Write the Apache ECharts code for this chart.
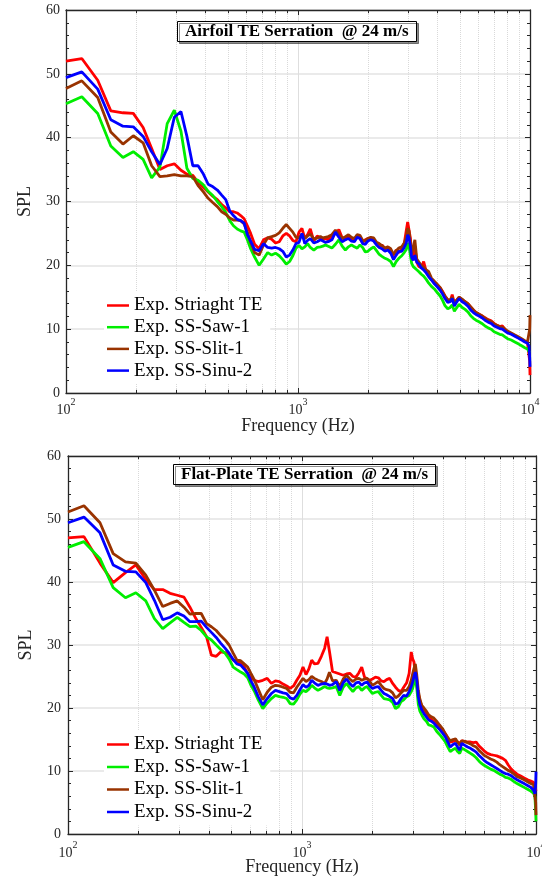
<!DOCTYPE html>
<html><head><meta charset="utf-8">
<script src="https://cdn.jsdelivr.net/npm/echarts@6/dist/echarts.min.js"></script>
<style>html,body{margin:0;padding:0;background:#fff}#c{width:542px;height:877px}</style>
</head><body><div id="c"></div>
<script>
// Frequency bins (Hz), shared by all series
const FREQ = [100,117,137,156,176,195,215,234,254,273,293,313,332,352,371,391,410,430,449,469,488,508,527,547,566,586,605,625,
650,680,710,740,770,800,830,860,890,920,950,980,1010,
1040,1070,1100,1130,1170,1210,1250,
1280,1310,1350,1400,1450,1500,1550,1600,1650,1700,1750,1800,1850,1900,1950,2000,
2060,2120,2180,2240,2300,
2370,2440,2510,2580,2650,2720,2800,2870,2930,2970,
3010,3050,3090,3140,3190,3250,3320,3400,3480,3570,3660,3760,3870,3990,
4100,4200,4300,4420,4530,4620,4720,4820,4950,
5100,5250,5400,5550,5700,5850,6000,
6200,6400,6600,6800,7000,7200,7400,7600,7800,8000,
8300,8600,8900,9200,9500,9750,9900,9970,10000];

const NAMES = ['Exp. Striaght TE','Exp. SS-Saw-1','Exp. SS-Slit-1','Exp. SS-Sinu-2'];
const COLORS = ['#ff0000','#00ee00','#993300','#0000ff'];
const TITLES = ['Airfoil TE Serration  @ 24 m/s','Flat-Plate TE Serration  @ 24 m/s'];
const X_MINOR = [200,300,400,500,600,700,800,900,2000,3000,4000,5000,6000,7000,8000,9000];

// Top panel: Airfoil
const AIR_STRAIGHT = [52.0,52.4,49.0,44.2,43.9,43.8,41.6,38.3,35.0,35.6,35.9,34.9,34.3,34.1,33.0,32.2,31.5,30.8,30.3,29.5,29.0,28.4,28.4,28.2,27.8,27.3,26.2,25.0,
23.3,22.6,24.0,24.3,24.1,23.5,23.7,24.6,25.0,24.6,23.9,23.7,25.2,
25.8,24.2,24.8,25.7,23.8,24.6,24.3,
24.0,24.2,24.0,24.6,25.0,25.6,24.3,24.0,24.6,24.1,24.0,24.7,24.2,23.6,24.0,24.2,
24.3,24.0,23.4,22.8,23.2,
22.6,22.9,22.0,21.6,22.4,22.0,22.6,23.4,25.5,26.8,
26.5,24.3,22.0,21.5,23.0,20.5,19.8,19.6,20.6,19.0,18.6,17.8,17.4,16.8,
16.5,15.9,15.2,14.6,14.4,15.4,14.1,14.5,15.0,
14.6,14.3,14.0,13.5,13.0,12.6,12.4,
12.1,11.8,11.5,11.3,10.9,10.6,10.4,10.5,10.0,9.6,
9.3,9.0,8.7,8.4,8.1,7.9,7.6,5.0,2.8];
const AIR_SAW = [45.3,46.4,43.8,38.7,36.9,37.8,36.6,33.7,35.4,42.2,44.3,41.0,35.2,33.6,33.3,32.6,31.6,30.9,30.0,29.2,28.3,27.0,26.2,25.7,25.4,25.2,24.0,22.6,
21.3,20.0,21.0,22.0,21.6,21.9,21.5,20.9,20.2,20.6,21.5,22.7,23.1,
22.6,22.9,23.4,22.8,22.4,22.8,22.9,
23.0,23.2,23.0,22.7,23.3,24.0,23.0,22.4,22.9,23.2,22.9,22.7,23.2,22.8,22.1,22.2,
22.6,22.9,22.3,21.7,21.4,
21.1,20.9,20.6,19.8,20.6,21.1,21.5,22.0,22.5,23.5,
23.0,21.6,20.3,19.8,20.0,19.3,19.0,18.6,18.3,17.8,17.2,16.7,16.3,15.7,
15.2,14.5,13.7,13.2,13.4,13.8,12.8,13.3,13.9,
13.4,13.1,12.7,12.1,11.7,11.4,11.2,
10.9,10.5,10.2,10.0,9.6,9.4,9.2,9.1,8.8,8.5,
8.3,8.0,7.7,7.4,7.1,6.9,6.6,6.3,6.2];
const AIR_SLIT = [47.7,48.9,46.3,40.9,39.0,40.3,39.2,35.6,33.9,34.0,34.2,34.0,34.0,33.9,32.5,31.5,30.5,29.8,29.2,28.4,28.0,27.4,27.1,27.1,27.0,26.5,25.2,23.6,
22.0,21.6,23.2,24.3,24.5,24.7,25.1,25.8,26.4,25.8,25.2,24.4,24.3,
24.9,24.2,24.6,24.9,24.1,24.3,24.5,
24.3,24.4,24.5,24.8,25.5,24.9,24.2,24.5,24.8,24.4,24.2,24.8,24.7,23.9,23.8,24.2,
24.4,24.3,23.6,23.4,23.1,
22.7,22.9,22.6,21.7,22.3,22.7,22.9,23.5,24.4,25.8,
25.4,23.6,21.8,22.0,24.0,21.0,20.5,20.0,19.7,19.3,19.0,18.0,17.5,17.0,
16.5,15.8,15.2,14.6,14.6,15.0,14.0,14.5,15.0,
14.7,14.3,14.0,13.5,13.0,12.6,12.4,
12.1,11.7,11.4,11.2,10.8,10.6,10.4,10.3,10.0,9.7,
9.4,9.1,8.8,8.5,8.2,8.0,7.8,10.0,12.2];
const AIR_SINU = [49.4,50.3,47.6,42.8,41.8,41.7,40.2,37.8,35.8,38.3,43.2,44.1,40.2,35.6,35.6,34.3,32.7,32.3,31.8,31.0,30.3,28.5,27.8,27.2,27.0,26.6,24.8,23.8,
22.5,22.3,23.4,22.8,22.7,22.8,22.6,22.2,21.3,21.6,22.4,23.4,23.6,
25.0,23.4,23.9,24.2,23.5,23.7,24.0,
23.8,23.6,23.7,24.0,25.2,24.4,23.7,24.0,24.2,23.8,23.7,24.4,24.2,23.4,23.3,23.8,
24.0,23.8,23.2,22.8,22.6,
22.2,22.4,21.9,20.9,21.6,22.2,22.2,22.8,23.5,24.8,
24.3,23.0,21.2,20.8,21.6,20.5,20.2,19.6,19.3,18.8,18.2,17.7,17.1,16.6,
16.1,15.5,14.8,14.2,14.3,14.8,13.6,14.2,14.8,
14.3,14.0,13.6,13.0,12.6,12.3,12.1,
11.8,11.4,11.1,10.9,10.5,10.3,10.1,10.0,9.7,9.4,
9.2,8.9,8.6,8.3,8.0,7.8,7.4,5.5,4.1];

// Bottom panel: Flat plate
const FP_STRAIGHT = [47.0,47.2,43.0,39.9,41.5,42.7,40.4,38.8,38.8,38.2,37.9,37.6,36.0,34.2,32.8,31.3,28.4,28.2,28.9,28.8,28.5,27.6,27.3,27.2,26.5,25.5,24.8,24.4,
24.2,24.4,24.7,23.9,24.3,24.2,23.8,23.5,23.1,23.5,24.4,25.2,26.5,
25.3,26.2,27.6,27.0,27.1,28.2,29.5,
31.3,29.0,25.8,25.6,25.4,25.2,25.4,25.5,25.0,24.9,25.6,26.5,24.9,24.6,24.4,24.6,
24.9,24.8,24.3,24.2,24.5,
24.7,23.9,23.3,22.8,22.6,23.3,24.0,25.5,28.9,27.8,
27.3,25.2,23.6,22.3,21.2,20.2,19.6,19.2,18.6,18.2,17.8,17.4,17.0,16.5,
15.9,15.2,14.6,14.7,14.8,14.6,14.4,14.8,14.7,
14.6,14.6,14.5,14.6,14.0,13.6,13.2,
12.8,12.6,12.5,12.4,12.2,12.0,11.7,11.0,10.4,10.0,
9.5,9.2,8.9,8.6,8.4,8.2,7.6,7.0,6.8];
const FP_SAW = [45.5,46.4,43.7,39.1,37.5,38.3,37.0,34.2,32.6,33.5,34.4,33.6,32.9,33.0,32.3,31.3,30.8,30.0,29.3,28.7,27.8,26.5,26.1,25.7,25.4,24.8,23.6,22.7,
21.3,19.9,20.8,21.5,22.0,21.8,21.7,21.5,20.7,20.6,21.3,22.2,22.8,
22.6,23.0,23.6,23.2,22.8,23.1,23.4,
23.2,23.1,23.2,23.4,22.0,23.3,23.9,23.2,22.6,23.2,23.4,22.8,23.2,23.4,22.8,22.3,
22.5,22.6,22.0,21.5,21.4,
21.3,20.9,19.9,20.2,21.0,21.3,21.8,22.0,22.6,23.1,
24.0,24.6,23.4,20.6,19.5,18.9,18.3,17.9,17.3,17.2,17.0,16.3,15.8,15.2,
14.6,13.8,13.1,13.4,13.6,13.1,12.8,13.6,13.4,
13.1,12.8,12.5,12.1,11.6,11.2,10.9,
10.6,10.3,10.1,9.8,9.5,9.3,9.0,8.9,8.7,8.4,
8.0,7.7,7.4,7.1,6.8,6.5,5.9,3.5,2.0];
const FP_SLIT = [51.1,52.1,49.4,44.5,43.2,43.0,41.1,38.7,36.1,36.6,37.0,36.0,34.9,35.0,35.0,33.4,32.9,32.3,31.5,30.8,30.0,28.7,27.6,27.5,27.0,26.5,25.5,24.5,
23.0,21.3,22.5,23.3,23.6,23.5,23.3,23.1,22.5,22.4,23.3,24.0,24.7,
24.2,24.5,25.0,24.7,24.4,24.2,23.9,
24.6,25.7,24.3,24.4,23.4,24.6,25.2,24.6,24.2,24.6,24.7,24.4,24.6,24.7,24.2,23.6,
23.9,24.2,23.6,23.1,22.9,
22.8,22.4,21.6,21.9,22.4,22.8,22.8,23.4,24.4,25.4,
26.3,27.0,25.4,22.8,21.4,20.4,20.0,19.5,18.9,18.6,18.4,17.9,17.3,16.7,
15.9,15.3,14.8,15.0,15.1,14.6,14.1,14.8,14.7,
14.5,14.3,14.0,13.8,13.3,12.9,12.5,
12.2,11.9,11.7,11.4,11.0,10.7,10.4,10.1,9.9,9.6,
9.1,8.9,8.6,8.3,8.0,7.8,7.5,5.0,3.0];
const FP_SINU = [49.4,50.3,47.8,42.7,41.7,41.6,39.9,37.1,34.0,34.4,35.1,34.6,33.7,33.7,33.8,32.8,32.0,31.2,30.3,29.5,28.7,27.7,27.0,26.8,26.2,25.5,24.3,23.3,
21.8,20.5,21.5,22.3,22.8,22.6,22.4,22.3,21.6,21.4,22.0,22.9,23.7,
23.3,23.6,24.4,24.0,23.6,23.8,23.9,
23.8,23.6,23.7,24.2,22.8,24.0,24.6,23.9,23.4,24.0,24.1,23.6,24.0,24.1,23.5,23.1,
23.3,23.4,22.8,22.3,22.1,
21.8,21.5,20.6,20.8,21.5,22.0,21.9,22.6,23.4,24.1,
25.0,25.7,24.6,21.8,20.5,19.7,19.1,18.6,18.1,17.9,17.6,17.1,16.6,16.0,
15.4,14.6,13.8,14.2,14.4,13.8,13.3,14.4,14.1,
13.8,13.6,13.3,13.0,12.5,12.1,11.7,
11.3,11.0,10.7,10.4,10.1,9.8,9.6,9.5,9.3,9.0,
8.6,8.3,8.0,7.7,7.4,7.0,6.4,8.0,9.9];

const PANELS = [[AIR_STRAIGHT,AIR_SAW,AIR_SLIT,AIR_SINU],[FP_STRAIGHT,FP_SAW,FP_SLIT,FP_SINU]];

const FONT = "'Liberation Serif','Times New Roman',Times,serif";
const AX = '#262626';

const GRIDS = [
  {left:66, right:12, top:10, height:383},
  {left:68, right:6, top:456, height:378}
];

function xAxesFor(gi, margin, nameGap){
  return [{
    type:'log', logBase:10, gridIndex:gi, min:100, max:10000, splitNumber:2, position:'bottom',
    name:'Frequency (Hz)', nameLocation:'middle', nameGap:nameGap, nameMoveOverlap:false,
    nameTextStyle:{fontFamily:FONT, fontSize:18, color:AX},
    axisLine:{show:true, onZero:false, lineStyle:{color:AX, width:1.3}},
    axisTick:{show:true, inside:true, length:5, lineStyle:{color:AX, width:1}},
    axisLabel:{show:true, margin:margin, showMinLabel:true, showMaxLabel:true,
      formatter: v => '{b|10}{s|' + Math.round(Math.log10(v)) + '}',
      rich:{
        b:{fontFamily:FONT, fontSize:14, color:AX, lineHeight:20, verticalAlign:'bottom'},
        s:{fontFamily:FONT, fontSize:10, color:AX, lineHeight:10, verticalAlign:'top'}
      }},
    splitLine:{show:true, lineStyle:{color:'#dedede', width:1}}
  },{
    type:'log', logBase:10, gridIndex:gi, min:100, max:10000, splitNumber:2, position:'top',
    axisLine:{show:true, onZero:false, lineStyle:{color:AX, width:1.3}},
    axisTick:{show:true, inside:true, length:5, lineStyle:{color:AX, width:1}},
    axisLabel:{show:false}, splitLine:{show:false}
  }];
}
function yAxesFor(gi, margin, nameGap){
  return [{
    type:'value', gridIndex:gi, min:0, max:60, interval:10, position:'left',
    name:'SPL', nameLocation:'middle', nameGap:nameGap, nameRotate:90, nameMoveOverlap:false,
    nameTextStyle:{fontFamily:FONT, fontSize:18, color:AX},
    axisLine:{show:true, onZero:false, lineStyle:{color:AX, width:1.3}},
    axisTick:{show:true, inside:true, length:5, lineStyle:{color:AX, width:1}},
    minorTick:{show:true, splitNumber:5, length:3, lineStyle:{color:AX, width:1}},
    axisLabel:{margin:margin, fontFamily:FONT, fontSize:14, color:AX},
    splitLine:{show:true, lineStyle:{color:'#e3e3e3', width:1.5}}
  },{
    type:'value', gridIndex:gi, min:0, max:60, interval:10, position:'right',
    axisLine:{show:true, onZero:false, lineStyle:{color:AX, width:1.3}},
    axisTick:{show:true, inside:true, length:5, lineStyle:{color:AX, width:1}},
    minorTick:{show:true, splitNumber:5, length:3, lineStyle:{color:AX, width:1}},
    axisLabel:{show:false}, splitLine:{show:false}
  }];
}

const series = [];
PANELS.forEach((vals, gi) => {
  const xi = gi*2, yi = gi*2;
  // minor x grid lines (dotted)
  series.push({
    type:'line', xAxisIndex:xi, yAxisIndex:yi, data:[], silent:true, z:1,
    markLine:{silent:true, symbol:'none', z:1, animation:false, label:{show:false},
      lineStyle:{color:'#d9d9d9', type:'dotted', width:1},
      emphasis:{disabled:true},
      data: X_MINOR.map(f => [{coord:[f,0]},{coord:[f,60]}])}
  });
  // minor x ticks (bottom & top, inward)
  series.push({
    type:'line', xAxisIndex:xi, yAxisIndex:yi, data:[], silent:true, z:3,
    markLine:{silent:true, symbol:'none', z:6, animation:false, label:{show:false},
      lineStyle:{color:AX, type:'solid', width:1},
      emphasis:{disabled:true},
      data: X_MINOR.map(f => [{coord:[f,0]},{coord:[f,0.5]}]).concat(
            X_MINOR.map(f => [{coord:[f,60]},{coord:[f,59.5]}]))}
  });
  vals.forEach((v, k) => {
    series.push({
      name:NAMES[k], type:'line', xAxisIndex:xi, yAxisIndex:yi,
      data: FREQ.map((f,i) => [f, v[i]]),
      showSymbol:false, symbol:'none', smooth:false, z:2+k*0.1,
      color:COLORS[k],
      lineStyle:{color:COLORS[k], width:2.8},
      itemStyle:{color:COLORS[k]},
      emphasis:{disabled:true}
    });
  });
});

const titleBase = {
  textStyle:{fontFamily:FONT, fontSize:17, fontWeight:'bold', color:'#000', lineHeight:17},
  padding:[2,8,2,8], borderColor:'#000', borderWidth:1, backgroundColor:'#fff',
  shadowColor:'rgba(0,0,0,0.45)', shadowOffsetX:2, shadowOffsetY:2, shadowBlur:0
};
const legendBase = {
  orient:'vertical', itemWidth:22, itemHeight:2.5, icon:'rect', selectedMode:false,
  backgroundColor:'#fff', padding:[4,8,4,3], data:NAMES,
  textStyle:{fontFamily:FONT, fontSize:19, color:'#000', lineHeight:19}
};

const option = {
  animation:false,
  backgroundColor:'#fff',
  grid: GRIDS.map(g => Object.assign({containLabel:false, outerBoundsMode:'none'}, g)),
  title:[
    Object.assign({text:TITLES[0], left:177, top:21}, titleBase),
    Object.assign({text:TITLES[1], left:173, top:464}, titleBase)
  ],
  legend:[
    Object.assign({left:104, top:292, itemGap:2.7}, legendBase),
    Object.assign({left:104, top:731, itemGap:3.5}, legendBase)
  ],
  xAxis: xAxesFor(0, 4, 24).concat(xAxesFor(1, 6, 24)),
  yAxis: yAxesFor(0, 6, 32).concat(yAxesFor(1, 7, 33)),
  series: series
};

const chart = echarts.init(document.getElementById('c'), null, {renderer:'canvas'});
chart.setOption(option);
</script>
</body></html>
